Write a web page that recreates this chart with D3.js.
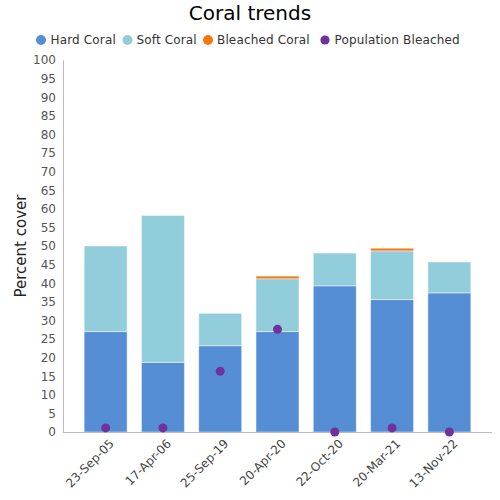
<!DOCTYPE html>
<html><head><meta charset="utf-8">
<script src="https://cdn.jsdelivr.net/npm/d3@7"></script>
<style>body{margin:0;background:#fff;font-family:"DejaVu Sans",sans-serif}</style>
</head><body><svg id="c" width="500" height="500"></svg>
<script>
const categories = ["23-Sep-05","17-Apr-06","25-Sep-19","20-Apr-20","22-Oct-20","20-Mar-21","13-Nov-22"];
const hardCoral = [27, 18.7, 23.2, 27, 39.3, 35.6, 37.4];
const softCoral = [23, 39.5, 8.7, 14.2, 8.8, 13.1, 8.3];
const bleachedCoral = [0, 0, 0, 0.7, 0, 0.7, 0];
const populationBleached = [1.1, 1.1, 16.3, 27.6, 0, 1.1, 0];
const yTicks = d3.range(0, 101, 5);
const seriesNames = ["Hard Coral","Soft Coral","Bleached Coral","Population Bleached"];
const colors = ["#558ed5","#92cddc","#f7770f","#7030a0"];

const svg = d3.select("#c");
const y = d3.scaleLinear().domain([0,100]).range([432,60]);
const x = d3.scaleBand().domain(categories).range([77,478]).paddingInner(0.25).paddingOuter(0.125);

svg.append("text").attr("x",250).attr("y",20).attr("text-anchor","middle")
  .attr("font-size",20).attr("fill","#000").text("Coral trends");

// legend
const legX = [41,127.5,208,325];
const legT = [50.5,136.5,217,334.5];
const leg = svg.append("g");
seriesNames.forEach((n,i)=>{
  leg.append("circle").attr("cx",legX[i]).attr("cy",40).attr("r",i==3?4.6:5).attr("fill",colors[i]);
  leg.append("text").attr("x",legT[i]).attr("y",44).attr("font-size",12)
    .attr("letter-spacing",0.15).attr("fill","#333").text(n);
});

// y axis
const ya = svg.append("g").attr("transform","translate(63,0)")
  .call(d3.axisLeft(y).tickValues(yTicks).tickSize(0).tickPadding(7));
ya.select(".domain").attr("stroke","#bbb");
ya.selectAll("text").attr("font-size",12).attr("fill","#555").attr("font-family","DejaVu Sans");

svg.append("text").attr("transform","translate(26,246) rotate(-90)").attr("text-anchor","middle")
  .attr("font-size",15).attr("fill","#222").text("Percent cover");

// stacked bars
const rows = categories.map((c,i)=>({cat:c, hard:hardCoral[i], soft:softCoral[i], bleached:bleachedCoral[i]}));
const stack = d3.stack().keys(["hard","soft","bleached"])(rows);
stack.forEach((s,si)=>{
  svg.append("g").selectAll("rect").data(s).join("rect")
    .attr("x",d=>x(d.data.cat)).attr("width",x.bandwidth())
    .attr("y",d=>y(d[1])).attr("height",d=>Math.max(0,y(d[0])-y(d[1])))
    .attr("fill",colors[si])
    .attr("stroke",d=>(d[1]-d[0])>0?"rgba(255,255,255,0.45)":"none").attr("stroke-width",1);
});

// x axis
svg.append("line").attr("x1",63).attr("x2",492).attr("y1",432.5).attr("y2",432.5).attr("stroke","#bbb");
const xa = svg.append("g").attr("transform","translate(0,432)")
  .call(d3.axisBottom(x).tickSize(0).tickPadding(8));
xa.select(".domain").remove();
xa.selectAll("text").attr("font-size",12).attr("fill","#444").attr("font-family","DejaVu Sans")
  .attr("text-anchor","end").attr("transform","rotate(-45)").attr("dx","-0.2em").attr("dy","0.6em");

// dots
svg.append("g").selectAll("circle").data(populationBleached).join("circle")
  .attr("cx",(d,i)=>x(categories[i])+x.bandwidth()/2).attr("cy",d=>y(d)).attr("r",4.5)
  .attr("fill",colors[3]);
</script></body></html>
